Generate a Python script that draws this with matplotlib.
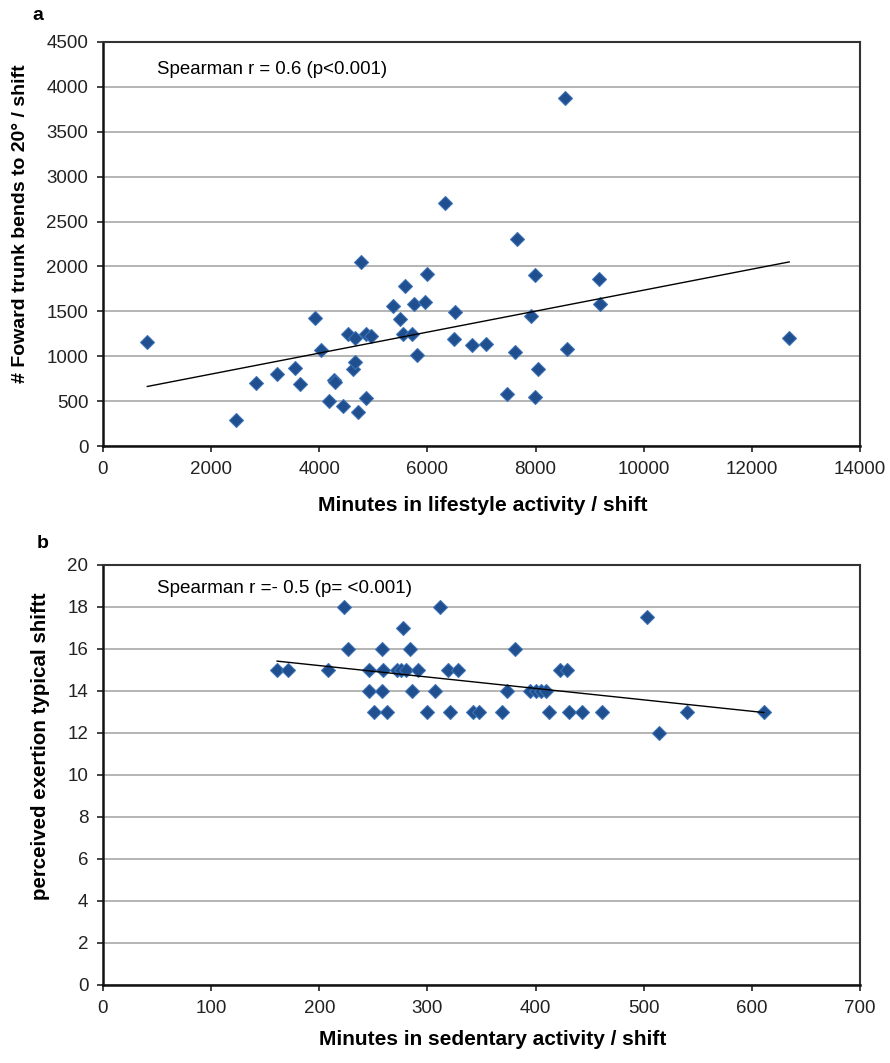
import numpy as np
import matplotlib
matplotlib.use("Agg")
import matplotlib.pyplot as plt

plt.rcParams['font.family'] = ['Liberation Sans', 'DejaVu Sans']

# Panel a data: minutes in lifestyle activity vs forward trunk bends
a_x = [820, 2460, 2830, 3220, 3550, 3650, 3920, 4030, 4180, 4280, 4300, 4440,
       4540, 4620, 4660, 4670, 4720, 4780, 4860, 4870, 4950, 5370, 5490, 5540,
       5590, 5720, 5750, 5810, 5960, 5990, 6320, 6510, 6490, 6820, 7080,
       8540, 7650, 7990, 9180, 9200, 7910, 7620, 8580, 8040, 7480, 7990, 12690]
a_y = [1160, 290, 700, 800, 870, 690, 1430, 1070, 500, 735, 710, 450,
       1250, 860, 940, 1200, 380, 2050, 530, 1250, 1220, 1560, 1420, 1250,
       1780, 1245, 1585, 1015, 1605, 1920, 2710, 1490, 1190, 1130, 1140,
       3880, 2310, 1910, 1860, 1580, 1450, 1045, 1080, 860, 575, 545, 1200]

# Panel b data: minutes in sedentary activity vs perceived exertion
b_x = [223, 312, 503, 277, 227, 258, 284, 381,
       161, 171, 208, 246, 259, 272, 276, 280, 291, 319, 328, 423, 429,
       246, 258, 286, 307, 374, 395, 400, 405, 410,
       251, 263, 300, 321, 342, 348, 369, 412, 431, 443, 461, 540, 611,
       514]
b_y = [18, 18, 17.5, 17, 16, 16, 16, 16,
       15, 15, 15, 15, 15, 15, 15, 15, 15, 15, 15, 15, 15,
       14, 14, 14, 14, 14, 14, 14, 14, 14,
       13, 13, 13, 13, 13, 13, 13, 13, 13, 13, 13, 13, 13,
       12]

a_xticks = [0, 2000, 4000, 6000, 8000, 10000, 12000, 14000]
a_yticks = [0, 500, 1000, 1500, 2000, 2500, 3000, 3500, 4000, 4500]
b_xticks = [0, 100, 200, 300, 400, 500, 600, 700]
b_yticks = [0, 2, 4, 6, 8, 10, 12, 14, 16, 18, 20]

MARK = '#1f4f8f'
EDGE = '#3d72b4'

fig = plt.figure(figsize=(8.9, 10.63), dpi=100)
ax_a = fig.add_axes([0.1157, 0.5804, 0.8506, 0.3801])
ax_b = fig.add_axes([0.1157, 0.0734, 0.8506, 0.3951])


def style(ax, xticks, yticks):
    ax.set_xlim(xticks[0], xticks[-1])
    ax.set_ylim(yticks[0], yticks[-1])
    ax.set_xticks(xticks)
    ax.set_yticks(yticks)
    ax.yaxis.grid(True, color='#a8a8a8', linewidth=1.2)
    ax.set_axisbelow(True)
    ax.tick_params(direction='out', length=4, width=1.2, labelsize=13.5,
                   colors='#222222', pad=6.5)
    for side in ['left', 'bottom']:
        ax.spines[side].set_linewidth(1.8)
        ax.spines[side].set_color('#111111')
    for side in ['top', 'right']:
        ax.spines[side].set_linewidth(1.5)
        ax.spines[side].set_color('#333333')


def draw(ax, x, y):
    x = np.asarray(x, float)
    y = np.asarray(y, float)
    ax.plot(x, y, linestyle='none', marker='D', markersize=7.5,
            markerfacecolor=MARK, markeredgecolor=EDGE, markeredgewidth=0.8,
            zorder=3)
    slope, icpt = np.polyfit(x, y, 1)
    xs = np.array([x.min(), x.max()])
    ax.plot(xs, slope * xs + icpt, color='black', linewidth=1.0, zorder=4)


style(ax_a, a_xticks, a_yticks)
draw(ax_a, a_x, a_y)
ax_a.text(0.072, 0.933, 'Spearman r = 0.6 (p<0.001)', transform=ax_a.transAxes,
          fontsize=13.4, va='center', ha='left')
ax_a.set_xlabel('Minutes in lifestyle activity / shift', fontsize=15.2,
                fontweight='bold', va='center', ha='center')
ax_a.xaxis.set_label_coords(0.502, -0.146)
ax_a.set_ylabel('# Foward trunk bends to 20° / shift', fontsize=14,
                fontweight='bold', va='center', ha='center')
ax_a.yaxis.set_label_coords(-0.1096, 0.5495)

style(ax_b, b_xticks, b_yticks)
draw(ax_b, b_x, b_y)
ax_b.text(0.072, 0.945, 'Spearman r =- 0.5 (p= <0.001)', transform=ax_b.transAxes,
          fontsize=13.6, va='center', ha='left')
ax_b.set_xlabel('Minutes in sedentary activity / shift', fontsize=15,
                fontweight='bold', va='center', ha='center')
ax_b.xaxis.set_label_coords(0.515, -0.131)
ax_b.set_ylabel('perceived exertion typical shiftt', fontsize=14.8,
                fontweight='bold', va='center', ha='center')
ax_b.yaxis.set_label_coords(-0.0819, 0.569)

fig.text(37.5 / 890, 1 - 16 / 1063, 'a', fontsize=14, fontweight='bold',
         va='center', ha='center')
fig.text(43 / 890, 1 - 543 / 1063, 'b', fontsize=14, fontweight='bold',
         va='center', ha='center')

fig.savefig('out.png', dpi=100)
